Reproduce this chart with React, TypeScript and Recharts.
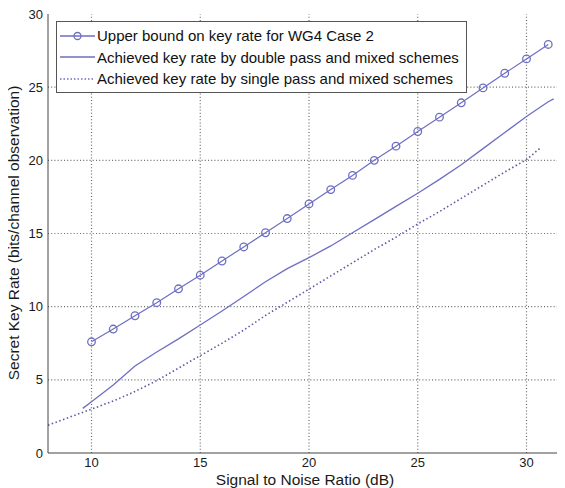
import React from "react";
import { LineChart, Line, XAxis, YAxis, Label } from "recharts";

const snrUpper = [10, 11, 12, 13, 14, 15, 16, 17, 18, 19, 20, 21, 22, 23, 24, 25, 26, 27, 28, 29, 30, 31];
const upperRate = [7.6, 8.47, 9.38, 10.27, 11.22, 12.15, 13.12, 14.08, 15.05, 16.02, 17.02, 18.0, 18.97, 20.0, 20.97, 21.97, 22.95, 23.93, 24.95, 25.95, 26.93, 27.92];

const snrDouble = [9.6, 10, 11, 12, 13, 14, 15, 16, 17, 18, 19, 20, 21, 22, 23, 24, 25, 26, 27, 28, 29, 30, 31, 31.25];
const doubleRate = [3.05, 3.5, 4.65, 5.95, 6.9, 7.8, 8.75, 9.7, 10.7, 11.7, 12.6, 13.35, 14.15, 15.05, 15.95, 16.85, 17.75, 18.7, 19.7, 20.8, 21.9, 23.0, 24.0, 24.2];

const snrSingle = [8, 9, 10, 11, 12, 13, 14, 15, 16, 17, 18, 19, 20, 21, 22, 23, 24, 25, 26, 27, 28, 29, 30, 30.6];
const singleRate = [1.9, 2.45, 3.0, 3.55, 4.2, 4.95, 5.8, 6.65, 7.5, 8.4, 9.4, 10.3, 11.2, 12.1, 13.0, 13.9, 14.75, 15.65, 16.5, 17.4, 18.3, 19.2, 20.05, 20.8];

const xDomain = [8, 32];
const yDomain = [0, 30];
const xTicks = [10, 15, 20, 25, 30];
const yTicks = [0, 5, 10, 15, 20, 25, 30];

const legendLabels = [
  "Upper bound on key rate for WG4 Case 2",
  "Achieved key rate by double pass and mixed schemes",
  "Achieved key rate by single pass and mixed schemes",
];

const toPoints = (xs: number[], ys: number[]) => xs.map((x, i) => ({ snr: x, rate: ys[i] }));

const upperData = toPoints(snrUpper, upperRate);
const doubleData = toPoints(snrDouble, doubleRate);
const singleData = toPoints(snrSingle, singleRate);

// dotted grid as separate series, one key per grid line
const vGrid = xTicks.map((t) => yDomain.map((y) => ({ snr: t, ["gv" + t]: y })));
const hGrid = yTicks.slice(1, -1).map((t) => xDomain.map((x) => ({ snr: x, ["gh" + t]: t })));

const lineColor = "#6e6ec4";
const gridColor = "#6a6a6a";
const font = "'Liberation Sans', Arial, sans-serif";
const tickStyle = { fill: "#1a1a1a", fontSize: 13, fontFamily: font };

function LegendBox() {
  const styles = [
    { dash: undefined, marker: true },
    { dash: undefined, marker: false },
    { dash: "1.5 2", marker: false },
  ];
  return (
    <div
      style={{
        position: "absolute",
        left: 56,
        top: 21,
        width: 409,
        height: 70,
        border: "1px solid #555",
        background: "#fff",
        fontFamily: font,
        fontSize: 15,
        color: "#111",
      }}
    >
      {legendLabels.map((txt, i) => (
        <div key={i} style={{ display: "flex", alignItems: "center", height: 21.5, marginTop: i === 0 ? 3 : 0 }}>
          <svg width={40} height={12} style={{ marginLeft: 3, flex: "none" }}>
            <line x1={0} y1={6} x2={35} y2={6} stroke={lineColor} strokeWidth={1.3} strokeDasharray={styles[i].dash} />
            {styles[i].marker && <circle cx={17.5} cy={6} r={3.5} fill="none" stroke={lineColor} strokeWidth={1.3} />}
          </svg>
          <span style={{ marginLeft: -3, whiteSpace: "nowrap" }}>{txt}</span>
        </div>
      ))}
    </div>
  );
}

export default function App() {
  return (
    <div style={{ position: "relative", margin: "-8px -8px 0 -8px", width: 565, height: 488, overflow: "hidden", background: "#fff" }}>
      <LineChart width={578} height={488} margin={{ top: 14, right: 8, left: 0, bottom: 0 }}>
        <XAxis
          type="number"
          dataKey="snr"
          domain={xDomain}
          ticks={xTicks}
          allowDataOverflow
          height={35}
          tickSize={0}
          tickMargin={5}
          tickLine={false}
          tick={tickStyle}
          stroke="#444"
        >
          <Label
            content={() => (
              <text x={305} y={485} textAnchor="middle" fontFamily={font} fontSize={15.5} fill="#1a1a1a">
                Signal to Noise Ratio (dB)
              </text>
            )}
          />
        </XAxis>
        <XAxis
          xAxisId="top"
          orientation="top"
          type="number"
          dataKey="snr"
          domain={xDomain}
          ticks={xTicks}
          height={0}
          tickLine={false}
          tickFormatter={() => ""}
          stroke="#444"
        />
        <YAxis
          type="number"
          domain={yDomain}
          ticks={yTicks}
          width={48}
          tickSize={0}
          tickMargin={5}
          tickLine={false}
          tick={tickStyle}
          stroke="#444"
        >
          <Label
            content={() => (
              <text
                x={19}
                y={233}
                transform="rotate(-90 19 233)"
                textAnchor="middle"
                fontFamily={font}
                fontSize={15.5}
                fill="#1a1a1a"
              >
                Secret Key Rate (bits/channel observation)
              </text>
            )}
          />
        </YAxis>
        {vGrid.map((d, i) => (
          <Line key={"v" + i} data={d} dataKey={"gv" + xTicks[i]} stroke={gridColor} strokeWidth={1.2} strokeDasharray="1 2.2" dot={false} activeDot={false} legendType="none" isAnimationActive={false} />
        ))}
        {hGrid.map((d, i) => (
          <Line key={"h" + i} data={d} dataKey={"gh" + yTicks[i + 1]} stroke={gridColor} strokeWidth={1.2} strokeDasharray="1 2.2" dot={false} activeDot={false} legendType="none" isAnimationActive={false} />
        ))}
        <Line
          data={upperData}
          dataKey="rate"
          stroke={lineColor}
          strokeWidth={1.2}
          dot={{ r: 3.8, fill: "none", stroke: lineColor, strokeWidth: 1.3 }}
          isAnimationActive={false}
        />
        <Line
          data={doubleData}
          dataKey="rate"
          stroke={lineColor}
          strokeWidth={1.3}
          dot={false}
          isAnimationActive={false}
        />
        <Line
          data={singleData}
          dataKey="rate"
          stroke="#5a5aa8"
          strokeWidth={1.6}
          strokeDasharray="1.5 2.5"
          dot={false}
          isAnimationActive={false}
        />
      </LineChart>
      <LegendBox />
    </div>
  );
}
